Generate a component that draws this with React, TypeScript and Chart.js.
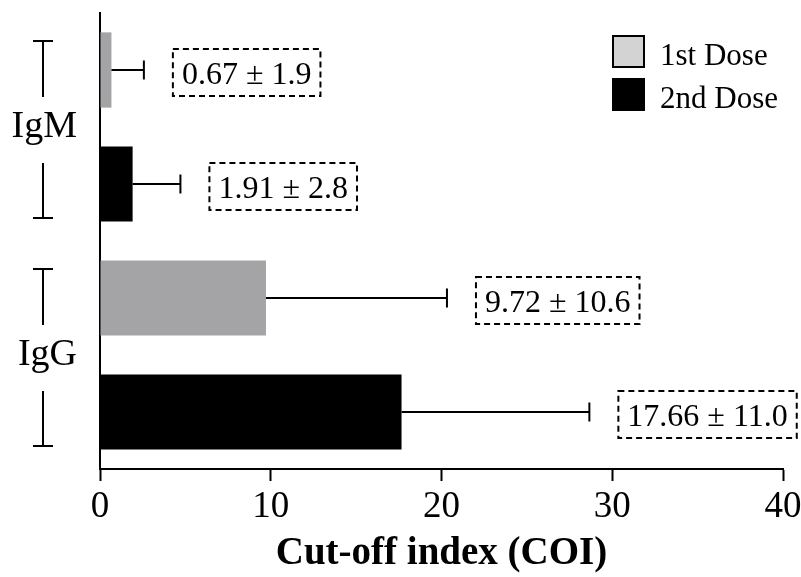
import { useEffect, useRef } from 'react';
import { Chart, registerables } from 'chart.js';

Chart.register(...registerables);

// Antibody groups (one row each) and the two dose series
const categories = ['IgM', 'IgG'];
const doseLabels = ['1st Dose', '2nd Dose'];
const firstDoseMean = [0.67, 9.72];
const firstDoseSd = [1.9, 10.6];
const secondDoseMean = [1.91, 17.66];
const secondDoseSd = [2.8, 11.0];
const xTickValues = [0, 10, 20, 30, 40];
const xAxisTitle = 'Cut-off index (COI)';

const SERIF = "'Liberation Serif', 'Times New Roman', serif";
const barColors = ['#a4a4a7', '#000000'];
const swatchColors = ['#d3d3d3', '#000000'];

// Whiskers (mean + SD) and a dashed box stating "mean ± SD" to the right of each bar
const errorLabelPlugin = {
  id: 'errorLabels',
  afterDatasetsDraw(chart: any) {
    const { ctx } = chart;
    const xs = chart.scales.x;
    chart.data.datasets.forEach((ds: any, di: number) => {
      const meta = chart.getDatasetMeta(di);
      meta.data.forEach((bar: any, i: number) => {
        const mean = ds.data[i];
        const sd = ds.sd[i];
        const x0 = xs.getPixelForValue(mean);
        const x1 = xs.getPixelForValue(mean + sd);
        const y = bar.y;
        ctx.save();
        ctx.strokeStyle = '#000';
        ctx.lineWidth = 2;
        ctx.beginPath();
        ctx.moveTo(x0, y);
        ctx.lineTo(x1, y);
        ctx.moveTo(x1, y - 9.5);
        ctx.lineTo(x1, y + 9.5);
        ctx.stroke();

        const text = `${mean.toFixed(2)} ± ${sd.toFixed(1)}`;
        ctx.font = `32px ${SERIF}`;
        const w = ctx.measureText(text).width;
        const pad = 9;
        const bx = x1 + 29;
        const bw = w + pad * 2;
        const bh = 47;
        const by = y + 2.5 - bh / 2;
        ctx.setLineDash([6, 4]);
        ctx.lineWidth = 2;
        ctx.strokeRect(bx, by, bw, bh);
        ctx.setLineDash([]);
        ctx.fillStyle = '#000';
        ctx.textAlign = 'left';
        ctx.textBaseline = 'alphabetic';
        ctx.fillText(text, bx + pad, y + 14);
        ctx.restore();
      });
    });
  },
};

// Bracket marks beside each group name on the category axis
const bracketPlugin = {
  id: 'groupBrackets',
  afterDraw(chart: any) {
    const { ctx } = chart;
    const ys = chart.scales.y;
    const cx = 43;
    ctx.save();
    ctx.strokeStyle = '#000';
    ctx.lineWidth = 2;
    categories.forEach((_, i) => {
      const c = ys.getPixelForValue(i);
      const top = c - 86;
      const bottom = c + 91;
      ctx.beginPath();
      ctx.moveTo(cx - 10, top);
      ctx.lineTo(cx + 10, top);
      ctx.moveTo(cx, top);
      ctx.lineTo(cx, c - 30);
      ctx.moveTo(cx, c + 36);
      ctx.lineTo(cx, bottom);
      ctx.moveTo(cx - 10, bottom);
      ctx.lineTo(cx + 10, bottom);
      ctx.stroke();
    });
    ctx.restore();
  },
};

// Legend in the upper right corner of the plot area
const cornerLegendPlugin = {
  id: 'cornerLegend',
  afterDraw(chart: any) {
    const { ctx, chartArea } = chart;
    const lx = chartArea.right - 171;
    const ly = chartArea.top + 22;
    ctx.save();
    chart.data.datasets.forEach((ds: any, i: number) => {
      const top = ly + i * 43;
      ctx.fillStyle = swatchColors[i];
      ctx.fillRect(lx, top, 33, 33);
      ctx.strokeStyle = '#000';
      ctx.lineWidth = 2;
      ctx.strokeRect(lx + 1, top + 1, 31, 31);
      ctx.fillStyle = '#000';
      ctx.font = `31px ${SERIF}`;
      ctx.textAlign = 'left';
      ctx.textBaseline = 'alphabetic';
      ctx.fillText(ds.label, lx + 48, top + 30);
    });
    ctx.restore();
  },
};

export default function App() {
  const canvasRef = useRef<HTMLCanvasElement | null>(null);

  useEffect(() => {
    if (!canvasRef.current) return;
    const chart = new Chart(canvasRef.current, {
      type: 'bar',
      data: {
        labels: categories,
        datasets: [
          {
            label: doseLabels[0],
            data: firstDoseMean,
            sd: firstDoseSd,
            backgroundColor: barColors[0],
            borderWidth: 0,
            categoryPercentage: 1,
            barPercentage: 0.66,
          } as any,
          {
            label: doseLabels[1],
            data: secondDoseMean,
            sd: secondDoseSd,
            backgroundColor: barColors[1],
            borderWidth: 0,
            categoryPercentage: 1,
            barPercentage: 0.66,
          } as any,
        ],
      },
      options: {
        indexAxis: 'y',
        responsive: false,
        animation: false,
        devicePixelRatio: 1,
        layout: { padding: { top: 13, right: 18, bottom: 0, left: 0 } },
        plugins: {
          legend: { display: false },
          tooltip: { enabled: false },
        },
        scales: {
          x: {
            type: 'linear',
            min: 0,
            max: 40,
            afterBuildTicks: (scale: any) => {
              scale.ticks = xTickValues.map((v) => ({ value: v }));
            },
            afterFit: (scale: any) => {
              scale.height = 108;
              scale.paddingLeft = 0;
              scale.paddingRight = 0;
            },
            grid: {
              display: true,
              drawOnChartArea: false,
              drawTicks: true,
              tickLength: 12,
              tickWidth: 2,
              tickColor: '#000',
            },
            border: { display: true, color: '#000', width: 2 },
            ticks: {
              color: '#000',
              padding: 4,
              font: { family: SERIF, size: 37 },
            },
            title: {
              display: true,
              text: xAxisTitle,
              color: '#000',
              padding: { top: 0, bottom: 0 },
              font: { family: SERIF, size: 39, weight: 'bold' },
            },
          },
          y: {
            type: 'category',
            z: 1,
            afterFit: (scale: any) => {
              scale.width = 100;
              scale.paddingTop = 0;
              scale.paddingBottom = 0;
            },
            grid: { display: true, drawOnChartArea: false, drawTicks: false },
            border: { display: true, color: '#000', width: 2 },
            ticks: {
              color: '#000',
              padding: 23,
              font: { family: SERIF, size: 38 },
            },
          },
        },
      } as any,
      plugins: [errorLabelPlugin, bracketPlugin, cornerLegendPlugin],
    });
    return () => chart.destroy();
  }, []);

  return (
    <div style={{ position: 'fixed', left: 0, top: 0, width: 801, height: 577, background: '#fff' }}>
      <canvas ref={canvasRef} width={801} height={577} style={{ display: 'block' }} />
    </div>
  );
}
